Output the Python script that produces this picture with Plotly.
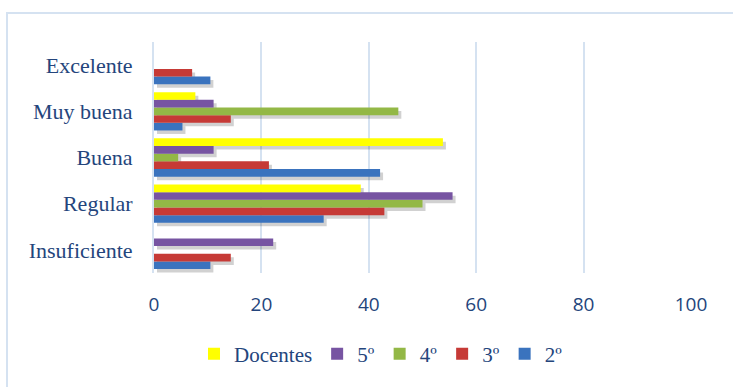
import plotly.graph_objects as go

# Survey answers (% of respondents) per rating, by group
categories = ["Insuficiente", "Regular", "Buena", "Muy buena", "Excelente"]
series_names = ["2º", "3º", "4º", "5º", "Docentes"]
v_2 = [10.5, 31.6, 42.1, 5.3, 10.5]
v_3 = [14.3, 42.9, 21.4, 14.3, 7.1]
v_4 = [0, 50.0, 4.5, 45.5, 0]
v_5 = [22.2, 55.6, 11.1, 11.1, 0]
v_doc = [0, 38.5, 53.8, 7.7, 0]
tick_vals = [0, 20, 40, 60, 80, 100]

series_values = [v_2, v_3, v_4, v_5, v_doc]
colors = ["#3A73BE", "#C63A36", "#93B846", "#7754A2", "#FFFF00"]

W, H = 733, 387
ML, MR, MT, MB = 154, 42, 42, 114
PW, PH = W - ML - MR, H - MT - MB

TEXT = "#24457C"
GRID = "#D5E2F1"

fig = go.Figure()

# soft drop shadows (drawn on the base axes, slightly offset)
for vals in series_values:
    fig.add_trace(go.Bar(
        y=categories, x=vals, orientation="h",
        marker=dict(color="rgba(0,0,0,0.18)", line=dict(width=0)),
        xaxis="x", yaxis="y", showlegend=False, hoverinfo="skip",
    ))

# the bars themselves
for name, vals, col in zip(series_names, series_values, colors):
    fig.add_trace(go.Bar(
        y=categories, x=vals, orientation="h", name=name,
        marker=dict(color=col, line=dict(width=0)),
        xaxis="x2", yaxis="y2",
    ))

shift_y = 3.5 / (PH / len(categories))
shift_x = 3.0 / (PW / 100)

fig.update_layout(
    width=W, height=H,
    margin=dict(l=ML, r=MR, t=MT, b=MB),
    paper_bgcolor="white", plot_bgcolor="white",
    barmode="group", bargap=0.17, bargroupgap=0,
    xaxis=dict(range=[-shift_x, 100 - shift_x], showgrid=False, zeroline=False,
               showticklabels=False, fixedrange=True),
    yaxis=dict(type="category", categoryarray=categories,
               range=[-0.5 + shift_y, len(categories) - 0.5 + shift_y],
               showgrid=False, showticklabels=False, zeroline=False),
    xaxis2=dict(overlaying="x", anchor="y2", range=[0, 100], tickvals=tick_vals,
                showgrid=True, gridcolor=GRID, gridwidth=2, zeroline=False,
                ticks="outside", ticklen=14, tickcolor="rgba(0,0,0,0)",
                tickfont=dict(family="Open Sans", size=19, color=TEXT)),
    yaxis2=dict(overlaying="y", anchor="x2", type="category", categoryarray=categories,
                range=[-0.5, len(categories) - 0.5],
                showline=True, linecolor=GRID, linewidth=2, showgrid=False,
                ticks="outside", ticklen=15, tickcolor="rgba(0,0,0,0)",
                tickfont=dict(family="Liberation Serif", size=22, color=TEXT)),
    legend=dict(orientation="h", traceorder="reversed",
                x=(194 - ML) / PW, xanchor="left",
                y=(MT + PH - 354) / PH, yanchor="middle",
                font=dict(family="Liberation Serif", size=21, color=TEXT),
                itemwidth=30, bgcolor="rgba(0,0,0,0)"),
    shapes=[dict(type="rect", xref="paper", yref="paper",
                 x0=(7 - ML) / PW, x1=(W + 20 - ML) / PW,
                 y0=(MT + PH - (H + 20)) / PH, y1=1 + (MT - 13) / PH,
                 line=dict(color=GRID, width=2), layer="below")],
)

fig.write_html("out.html")
